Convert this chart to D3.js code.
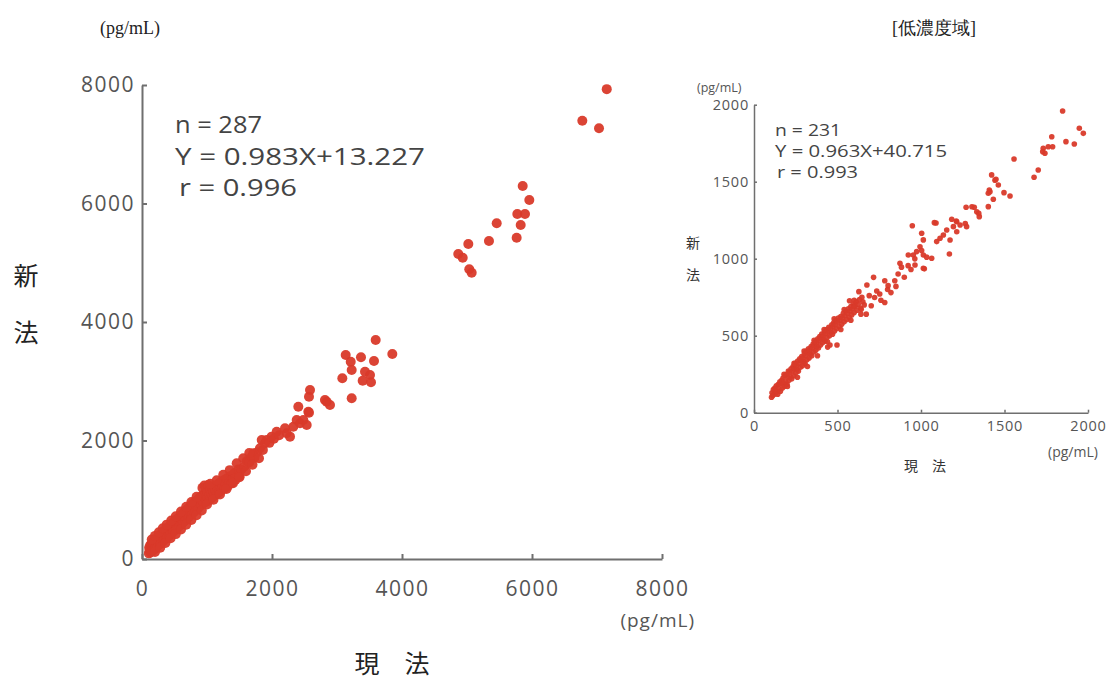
<!DOCTYPE html>
<html>
<head>
<meta charset="utf-8">
<script src="https://cdn.jsdelivr.net/npm/d3@7"></script>
<style>
  html, body { margin: 0; padding: 0; background: #fff; }
  svg { display: block; }
</style>
</head>
<body>
<svg id="chart" width="1106" height="680"></svg>
<script>
// ---------------- DATA ----------------
// Main chart (full range): [現法, 新法] in pg/mL
const mainTicks = [0, 2000, 4000, 6000, 8000];
const mainStats = ["n = 287", "Y = 0.983X+13.227", "r = 0.996"];
const mainPoints = [
  [105,95],[110,190],[118,140],[125,230],[130,110],[138,175],[145,250],[150,130],[158,205],[165,280],
  [170,150],[178,240],[185,300],[190,165],[198,260],[205,330],[212,190],[220,280],[228,350],[235,215],
  [242,305],[250,375],[258,240],[265,330],[272,400],[280,255],[288,350],[295,420],[302,280],[310,375],
  [318,450],[325,300],[332,400],[340,470],[348,330],[355,420],[362,495],[370,345],[378,445],[385,515],
  [392,370],[400,470],[410,540],[418,395],[425,490],[432,565],[440,420],[448,515],[455,590],[462,440],
  [470,540],[478,610],[485,465],[492,560],[500,635],[508,490],[515,585],[522,660],[530,510],[538,610],
  [545,680],[552,535],[560,630],[568,705],[575,560],[582,655],[590,730],[598,580],[605,680],[612,750],
  [620,605],[628,700],[635,775],[642,630],[650,725],[658,800],[665,650],[672,750],[680,820],[688,675],
  [695,770],[702,845],[710,700],[718,795],[725,870],[732,720],[740,820],[748,890],[755,745],[762,840],
  [770,915],[778,770],[785,865],[792,935],[800,795],[808,890],[815,960],[822,820],[830,910],[838,985],
  [845,840],[852,935],[860,1005],[868,865],[875,960],[882,1030],[890,890],[898,980],[905,1050],[912,915],
  [920,1005],[930,1200],[940,1080],[950,940],[960,1240],[968,1030],[975,1100],[985,1180],[990,965],
  [1000,1060],[1010,1130],[1020,1250],[1030,990],[1040,1085],[1050,1160],[1060,1020],[1070,1110],
  [1080,1190],[1090,1050],[1100,1140],[1110,1215],[1120,1075],[1130,1165],[1140,1240],[1155,1100],
  [1165,1190],[1175,1270],[1190,1130],[1200,1220],[1210,1300],[1225,1160],[1240,1250],[1255,1330],
  [1270,1190],[1285,1280],[1300,1360],[1320,1230],[1340,1320],[1360,1400],[1380,1280],[1400,1370],
  [1420,1450],[1440,1340],[1457,1615],[1460,1430],[1480,1510],[1500,1400],[1530,1510],[1558,1700],
  [1575,1560],[1610,1650],[1650,1630],[1690,1730],[1712,1784],[1730,1710],[1770,1800],[1815,1868],
  [1842,2008],[1860,1840],[1892,1953],[1920,2010],[1960,1960],[1995,2065],[2030,2030],[2072,2149],
  [2110,2090],[2200,2206],[2226,2121],[2277,2065],[2328,2233],[2380,2346],[2405,2570],[2431,2290],
  [2482,2346],[2534,2262],[2559,2486],[2569,2469],[2569,2739],[2585,2852],[2815,2684],[2841,2655],
  [2892,2599],[3082,3050],[3134,3443],[3211,3330],[3226,3190],[3226,2712],[3369,3404],[3395,3009],
  [3431,3161],[3508,3105],[3523,2982],[3569,3342],[3595,3696],[3851,3460],
  [4866,5148],[4934,5085],[5020,5316],[5035,4890],[5072,4832],[5338,5367],[5457,5666],[5764,5423],
  [5774,5823],[5826,5637],[5857,6295],[5892,5823],[5959,6059],[6774,7397],[7031,7269],[7150,7930],
  // band edges
  [150,330],[200,390],[260,450],[320,520],[380,580],[450,650],[520,720],[600,800],[680,880],[760,960],
  [840,1050],[1050,1270],[1150,1330],[1250,1420],[1350,1500],[1650,1790],
  [200,120],[280,190],[360,270],[440,350],[520,420],[600,500],[680,580],[760,660],[840,740],[920,820],
  [1000,920],[1100,1000],[1200,1090],[1300,1180],[1400,1280],[1500,1380],[1600,1480],[1700,1590],[1800,1700]
];

// Inset chart (low concentration range): [現法, 新法] in pg/mL
const insetTicks = [0, 500, 1000, 1500, 2000];
const insetStats = ["n = 231", "Y = 0.963X+40.715", "r = 0.993"];
const insetPoints = [
  [105,100],[108,130],[112,112],[116,150],[120,118],[125,160],[130,128],[134,175],[138,140],[142,120],
  [146,185],[150,155],[155,200],[158,140],[162,190],[166,210],[170,160],[174,225],[178,190],[182,170],
  [186,240],[190,200],[195,250],[198,185],[202,230],[206,270],[210,210],[214,265],[218,235],[222,285],
  [226,220],[230,270],[234,300],[238,240],[242,290],[246,320],[250,260],[254,305],[258,280],[262,335],
  [266,270],[270,320],[274,350],[278,295],[282,340],[286,365],[290,305],[294,355],[298,330],[302,385],
  [306,320],[310,370],[314,400],[318,345],[322,390],[326,415],[330,355],[334,405],[338,380],[342,430],
  [346,370],[350,420],[354,445],[358,395],[362,440],[366,460],[370,405],[374,455],[378,430],[382,480],
  [386,420],[390,470],[394,495],[398,440],[402,485],[406,510],[410,455],[414,500],[418,475],[422,525],
  [426,465],[430,515],[434,540],[438,490],[441,426],[444,530],[448,555],[452,500],[455,440],[458,545],
  [462,520],[466,570],[470,510],[474,560],[478,585],[482,530],[486,575],[490,600],[494,545],[497,440],
  [500,590],[505,615],[510,560],[515,600],[520,625],[525,575],[530,615],[535,645],[540,590],[545,630],
  [550,660],[555,605],[560,645],[565,675],[570,620],[572,727],[575,660],[580,690],[585,635],[590,675],
  [595,705],[600,650],[602,694],[606,690],[612,720],[618,665],[624,705],[628,786],[632,735],[638,680],
  [642,672],[646,750],[652,720],[660,700],[672,640],[676,829],[690,760],[702,694],[716,879],[722,748],
  [735,790],[753,771],[760,730],[783,716],[783,857],[800,800],[803,825],[820,780],[843,857],[850,820],
  [863,901],[874,970],[883,945],[900,880],[923,955],[924,1024],[940,930],[948,1214],[954,1024],[963,999],
  [964,959],[974,1046],[994,1078],[1004,1053],[1004,1165],[1014,1122],[1014,1024],[1014,938],[1020,934],
  [1034,1010],[1064,1003],[1080,1234],[1090,1232],[1094,1111],[1114,1133],[1134,1154],[1154,1186],
  [1170,1031],[1174,1121],[1184,1256],[1194,1208],[1211,1245],[1214,1240],[1214,1175],[1234,1219],
  [1265,1228],[1270,1334],[1273,1208],[1305,1337],[1319,1334],[1334,1305],[1346,1294],[1349,1273],
  [1403,1425],[1403,1338],[1409,1446],[1413,1435],[1423,1544],[1433,1386],[1443,1510],[1449,1516],
  [1463,1479],[1497,1429],[1533,1407],[1557,1647],[1677,1529],[1702,1576],[1729,1695],[1732,1717],
  [1742,1685],[1762,1727],[1783,1792],[1788,1727],[1848,1959],[1868,1760],[1918,1745],[1948,1847],
  [1972,1814],
  // band edges
  [180,250],[240,320],[300,400],[360,470],[420,540],[480,610],[540,670],[600,730],
  [200,170],[260,230],[320,300],[380,370],[440,460],[520,540],[580,600],[640,640]
];

// ---------------- DRAW ----------------
const svg = d3.select("#chart");
const axisColor = "#6f6f6f";
const labelColor = "#555";
const dotColor = "#d93a2a";
const fontSans = "'Open Sans', 'Noto Sans', sans-serif";
const fontCJK = "'Noto Sans CJK JP', sans-serif";
const fontSerif = "'Liberation Serif', 'DejaVu Serif', serif";

// top captions
svg.append("text").attr("x", 100).attr("y", 34).attr("font-family", fontSerif)
  .attr("font-size", 18).attr("fill", "#222").text("(pg/mL)");
svg.append("text").attr("x", 892).attr("y", 34).attr("font-family", fontSerif)
  .attr("font-size", 18).attr("fill", "#222").text("[低濃度域]");

function drawChart(opt) {
  const x = d3.scaleLinear().domain([0, opt.max]).range([opt.x0, opt.x1]);
  const y = d3.scaleLinear().domain([0, opt.max]).range([opt.y0, opt.y1]);
  const g = svg.append("g");

  const xAxis = d3.axisBottom(x).tickValues(opt.ticks).tickSizeInner(-opt.tick)
    .tickSizeOuter(0).tickPadding(opt.xPad).tickFormat(d3.format("d"));
  const yAxis = d3.axisLeft(y).tickValues(opt.ticks).tickSizeInner(-opt.tick)
    .tickSizeOuter(0).tickPadding(opt.yPad).tickFormat(d3.format("d"));

  const gx = g.append("g").attr("transform", `translate(0,${opt.y0})`).call(xAxis);
  const gy = g.append("g").attr("transform", `translate(${opt.x0},0)`).call(yAxis);
  [gx, gy].forEach(a => {
    a.select(".domain").attr("stroke", axisColor).attr("stroke-width", opt.lw);
    a.selectAll(".tick line").attr("stroke", axisColor).attr("stroke-width", opt.lw);
    a.selectAll(".tick text").attr("fill", labelColor).attr("font-family", fontSans)
      .attr("font-size", opt.fs).attr("letter-spacing", opt.ls);
  });

  g.append("g").selectAll("circle").data(opt.points).join("circle")
    .attr("cx", d => x(d[0])).attr("cy", d => y(d[1])).attr("r", opt.r)
    .attr("fill", dotColor).attr("fill-opacity", 0.95);

  opt.stats.forEach((s, i) => {
    g.append("text").attr("x", opt.sx + (i === 2 ? opt.rIndent : 0)).attr("y", opt.sy + i * opt.sdy)
      .attr("font-family", fontSans).attr("font-size", opt.sfs).attr("fill", "#444")
      .attr("textLength", opt.slen[i]).attr("lengthAdjust", "spacingAndGlyphs")
      .text(s);
  });
  return {x, y, g};
}

// main chart
const m = drawChart({
  max: 8000, ticks: mainTicks, points: mainPoints, stats: mainStats,
  x0: 142, x1: 662, y0: 559, y1: 85, tick: 5, lw: 2, fs: 21, ls: 1.5, xPad: 22, yPad: 7,
  r: 5, sx: 175, sy: 133, sdy: 31.5, sfs: 23, rIndent: 4, slen: [87, 250, 118]
});
m.g.append("text").attr("x", 695).attr("y", 627).attr("text-anchor", "end")
  .attr("font-family", fontSans).attr("font-size", 19).attr("fill", labelColor)
  .attr("letter-spacing", 1).text("(pg/mL)");
m.g.append("text").attr("x", 392).attr("y", 673).attr("text-anchor", "middle")
  .attr("font-family", fontCJK).attr("font-size", 25).attr("fill", "#222").text("現　法");
m.g.append("text").attr("x", 26).attr("y", 285).attr("text-anchor", "middle")
  .attr("font-family", fontCJK).attr("font-size", 25).attr("fill", "#222").text("新");
m.g.append("text").attr("x", 26).attr("y", 342).attr("text-anchor", "middle")
  .attr("font-family", fontCJK).attr("font-size", 25).attr("fill", "#222").text("法");

// inset chart
const s = drawChart({
  max: 2000, ticks: insetTicks, points: insetPoints, stats: insetStats,
  x0: 754, x1: 1088, y0: 412.7, y1: 104.7, tick: 3, lw: 1.5, fs: 14.5, ls: 0.8, xPad: 8, yPad: 5,
  r: 2.8, sx: 775, sy: 136, sdy: 21, sfs: 16, rIndent: 2, slen: [66, 172, 81]
});
s.g.append("text").attr("x", 697).attr("y", 92)
  .attr("font-family", fontSans).attr("font-size", 12.5).attr("fill", labelColor).text("(pg/mL)");
s.g.append("text").attr("x", 1048).attr("y", 457)
  .attr("font-family", fontSans).attr("font-size", 14).attr("fill", labelColor).text("(pg/mL)");
s.g.append("text").attr("x", 925).attr("y", 471).attr("text-anchor", "middle")
  .attr("font-family", fontCJK).attr("font-size", 14).attr("fill", "#333").text("現　法");
s.g.append("text").attr("x", 693).attr("y", 248).attr("text-anchor", "middle")
  .attr("font-family", fontCJK).attr("font-size", 14).attr("fill", "#333").text("新");
s.g.append("text").attr("x", 693).attr("y", 280).attr("text-anchor", "middle")
  .attr("font-family", fontCJK).attr("font-size", 14).attr("fill", "#333").text("法");
</script>
</body>
</html>
